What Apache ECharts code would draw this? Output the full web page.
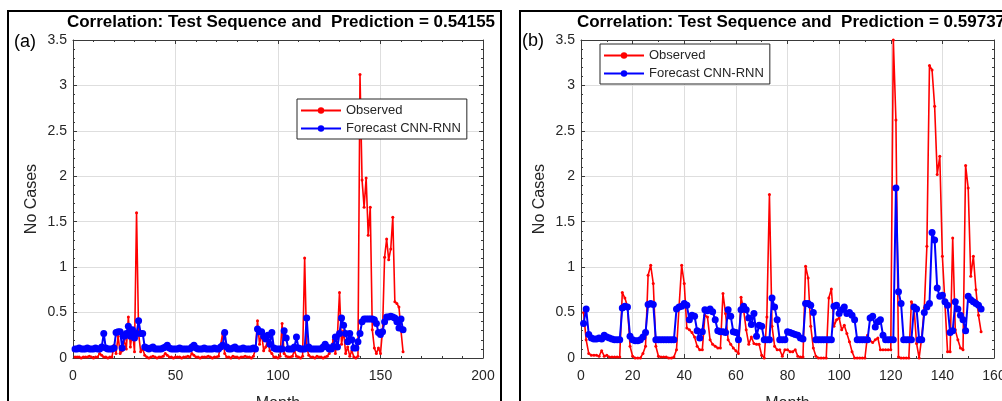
<!DOCTYPE html>
<html>
<head>
<meta charset="utf-8">
<script src="https://cdn.jsdelivr.net/npm/echarts@6/dist/echarts.min.js"></script>
<style>
  html, body { margin: 0; padding: 0; background: #fff; }
  #main { width: 1002px; height: 401px; }
</style>
</head>
<body>
<div id="main"></div>
<script>
// panel (a): observed vs forecast, one value per month starting at month 1
var observedA = [
  0.01,0.01,0.01,0.00,0.01,0.01,0.01,0.02,0.01,0.00,
  0.01,0.01,0.05,0.03,0.01,0.01,0.00,0.01,0.01,0.14,
  0.05,0.24,0.05,0.08,0.20,0.10,0.45,0.12,0.31,0.07,
  1.60,0.27,0.07,0.10,0.03,0.01,0.00,0.01,0.02,0.01,
  0.00,0.01,0.01,0.02,0.05,0.03,0.01,0.01,0.00,0.01,
  0.01,0.01,0.00,0.01,0.01,0.02,0.01,0.05,0.03,0.01,
  0.01,0.00,0.01,0.01,0.01,0.02,0.01,0.00,0.01,0.01,
  0.02,0.14,0.27,0.05,0.01,0.01,0.00,0.02,0.01,0.01,
  0.00,0.01,0.01,0.02,0.01,0.01,0.00,0.02,0.10,0.41,
  0.15,0.28,0.08,0.12,0.20,0.08,0.05,0.01,0.01,0.00,
  0.02,0.38,0.05,0.02,0.01,0.01,0.02,0.08,0.02,0.01,
  0.00,0.02,1.10,0.12,0.03,0.01,0.01,0.00,0.02,0.01,
  0.01,0.00,0.01,0.02,0.05,0.12,0.20,0.05,0.25,0.72,
  0.15,0.30,0.05,0.12,0.02,0.08,0.01,0.00,0.02,3.12,
  1.96,1.66,1.98,1.35,1.66,0.31,0.11,0.05,0.11,0.05,
  0.31,1.11,1.31,1.08,1.20,1.55,0.62,0.60,0.56,0.30,
  0.07
];
var forecastA = [
  0.10,0.10,0.11,0.10,0.10,0.10,0.11,0.10,0.10,0.10,
  0.11,0.10,0.10,0.12,0.27,0.11,0.10,0.10,0.10,0.11,
  0.28,0.29,0.29,0.11,0.24,0.27,0.35,0.24,0.31,0.22,
  0.27,0.41,0.27,0.27,0.12,0.11,0.10,0.11,0.12,0.10,
  0.10,0.10,0.10,0.11,0.12,0.14,0.11,0.10,0.10,0.10,
  0.10,0.11,0.10,0.10,0.10,0.10,0.10,0.12,0.14,0.11,
  0.10,0.10,0.10,0.11,0.10,0.10,0.10,0.10,0.11,0.10,
  0.10,0.12,0.14,0.28,0.12,0.10,0.10,0.11,0.12,0.10,
  0.10,0.10,0.11,0.10,0.10,0.10,0.10,0.11,0.10,0.32,
  0.29,0.29,0.24,0.21,0.25,0.15,0.28,0.11,0.10,0.10,
  0.10,0.10,0.30,0.22,0.10,0.10,0.10,0.12,0.23,0.11,
  0.10,0.10,0.10,0.44,0.12,0.10,0.10,0.10,0.10,0.10,
  0.10,0.12,0.15,0.12,0.10,0.10,0.13,0.23,0.12,0.27,
  0.44,0.36,0.27,0.18,0.27,0.20,0.11,0.11,0.18,0.27,
  0.40,0.43,0.43,0.43,0.43,0.43,0.42,0.38,0.28,0.26,
  0.29,0.40,0.45,0.45,0.46,0.45,0.44,0.40,0.33,0.43,
  0.31
];

// panel (b)
var observedB = [
  0.50,0.20,0.05,0.03,0.03,0.03,0.02,0.08,0.02,0.03,
  0.01,0.01,0.01,0.01,0.01,0.72,0.66,0.57,0.13,0.02,
  0.00,0.00,0.00,0.05,0.13,0.91,1.02,0.82,0.13,0.02,
  0.01,0.01,0.01,0.00,0.00,0.01,0.09,0.57,1.02,0.82,
  0.33,0.31,0.28,0.23,0.13,0.09,0.09,0.47,0.45,0.20,
  0.15,0.13,0.11,0.11,0.71,0.49,0.20,0.15,0.11,0.08,
  0.05,0.67,0.53,0.31,0.15,0.23,0.16,0.15,0.15,0.03,
  0.00,0.45,1.80,0.35,0.13,0.09,0.09,0.02,0.09,0.09,
  0.07,0.07,0.09,0.02,0.01,0.01,1.01,0.88,0.35,0.11,
  0.02,0.00,0.00,0.00,0.00,0.66,0.76,0.35,0.42,0.44,
  0.31,0.36,0.27,0.18,0.07,0.00,0.00,0.00,0.00,0.00,
  0.25,0.19,0.17,0.20,0.22,0.09,0.09,0.09,0.09,0.09,
  3.50,2.62,0.01,0.00,0.00,0.00,0.00,0.62,0.56,0.16,
  0.00,0.23,0.55,1.23,3.22,3.17,2.77,2.02,2.22,1.12,
  0.60,0.07,0.07,1.32,0.31,0.20,0.11,0.09,2.12,1.87,
  0.90,1.12,0.75,0.47,0.29
];
var forecastB = [
  0.38,0.54,0.26,0.22,0.21,0.21,0.22,0.21,0.25,0.23,
  0.22,0.21,0.20,0.20,0.20,0.55,0.57,0.56,0.24,0.20,
  0.19,0.19,0.20,0.23,0.28,0.59,0.60,0.59,0.20,0.20,
  0.20,0.20,0.20,0.20,0.20,0.20,0.54,0.56,0.57,0.60,
  0.58,0.42,0.47,0.46,0.30,0.22,0.29,0.53,0.52,0.54,
  0.51,0.42,0.30,0.29,0.29,0.28,0.53,0.46,0.29,0.28,
  0.20,0.53,0.57,0.53,0.44,0.37,0.49,0.24,0.36,0.35,
  0.20,0.20,0.20,0.66,0.56,0.42,0.20,0.20,0.20,0.29,
  0.28,0.27,0.26,0.25,0.22,0.21,0.60,0.60,0.58,0.50,
  0.20,0.20,0.20,0.20,0.20,0.20,0.20,0.57,0.58,0.49,
  0.53,0.56,0.49,0.50,0.47,0.42,0.20,0.20,0.20,0.20,
  0.20,0.44,0.46,0.34,0.40,0.42,0.25,0.20,0.20,0.20,
  0.20,1.87,0.73,0.60,0.20,0.20,0.20,0.20,0.56,0.54,
  0.20,0.20,0.50,0.56,0.60,1.38,1.30,0.77,0.68,0.69,
  0.62,0.58,0.28,0.30,0.62,0.54,0.47,0.42,0.30,0.68,
  0.64,0.62,0.60,0.58,0.54
];

var xTicksA = { max: 200, step: 50, minor: 5 };
var xTicksB = { max: 160, step: 20, minor: 2 };
var yTicks = { max: 3.5, step: 0.5, minor: 5 };

var titles = ['Correlation: Test Sequence and  Prediction = 0.54155',
              'Correlation: Test Sequence and  Prediction = 0.59737'];

function toPoints(arr) {
  return arr.map(function (v, i) { return [i + 1, v]; });
}

var FONT = 'Liberation Sans, Arial, Helvetica, sans-serif';
var TXT = '#262626';
var BOX = '#3a3a3a';

var chart = echarts.init(document.getElementById('main'));

// grid boxes (fixed, labels may run past the canvas edge like the original)
var grids = [
  { left: 73, top: 40, width: 410, height: 318, outerBoundsMode: 'none', containLabel: false },
  { left: 581, top: 40, width: 413, height: 318, outerBoundsMode: 'none', containLabel: false }
];

function xAxisPair(gi, t) {
  var base = {
    gridIndex: gi, type: 'value', min: 0, max: t.max, interval: t.step,
    axisLine: { show: true, onZero: false, lineStyle: { color: BOX, width: 1 } },
    axisTick: { show: true, inside: true, length: 4, lineStyle: { color: BOX } },
    minorTick: { show: true, splitNumber: t.minor, length: 2, lineStyle: { color: BOX } }
  };
  var bottom = Object.assign({}, base, {
    position: 'bottom',
    name: 'Month', nameLocation: 'middle', nameGap: 38,
    nameTextStyle: { fontFamily: FONT, fontSize: 16, color: TXT },
    axisLabel: { fontFamily: FONT, fontSize: 14, color: TXT, margin: 11 },
    splitLine: { show: true, lineStyle: { color: '#dedede', width: 1 } }
  });
  var top = Object.assign({}, base, {
    position: 'top',
    axisLabel: { show: false },
    splitLine: { show: false }
  });
  return [bottom, top];
}

function yAxisPair(gi) {
  var base = {
    gridIndex: gi, type: 'value', min: 0, max: yTicks.max, interval: yTicks.step,
    axisLine: { show: true, onZero: false, lineStyle: { color: BOX, width: 1 } },
    axisTick: { show: true, inside: true, length: 4, lineStyle: { color: BOX } },
    minorTick: { show: true, splitNumber: yTicks.minor, length: 2, lineStyle: { color: BOX } }
  };
  var left = Object.assign({}, base, {
    position: 'left',
    name: 'No Cases', nameLocation: 'middle', nameGap: 33,
    nameTextStyle: { fontFamily: FONT, fontSize: 16, color: TXT },
    axisLabel: { fontFamily: FONT, fontSize: 14, color: TXT, margin: 6 },
    splitLine: { show: true, lineStyle: { color: '#dedede', width: 1 } }
  });
  var right = Object.assign({}, base, {
    position: 'right',
    axisLabel: { show: false },
    splitLine: { show: false }
  });
  return [left, right];
}

var xAxes = xAxisPair(0, xTicksA).concat(xAxisPair(1, xTicksB));
var yAxes = yAxisPair(0).concat(yAxisPair(1));

function observedSeries(data, xi, yi) {
  return {
    name: 'Observed', type: 'line', xAxisIndex: xi, yAxisIndex: yi,
    data: toPoints(data), symbol: 'circle', symbolSize: 3, showSymbol: true,
    lineStyle: { color: '#ff0000', width: 1.6 },
    itemStyle: { color: '#ff0000' },
    animation: false, z: 2
  };
}
function forecastSeries(data, xi, yi) {
  return {
    name: 'Forecast CNN-RNN', type: 'line', xAxisIndex: xi, yAxisIndex: yi,
    data: toPoints(data), symbol: 'circle', symbolSize: 7, showSymbol: true,
    lineStyle: { color: '#0000ff', width: 2 },
    itemStyle: { color: '#0000ff' },
    animation: false, z: 3
  };
}

function legendAt(left, top) {
  return {
    orient: 'vertical', left: left, top: top,
    data: ['Observed', 'Forecast CNN-RNN'],
    itemWidth: 40, itemHeight: 8, itemGap: 5,
    padding: [5, 6, 4, 3],
    backgroundColor: '#fff', borderColor: '#262626', borderWidth: 1,
    textStyle: { fontFamily: FONT, fontSize: 13, color: TXT }
  };
}

function label(text, x, y, size, bold) {
  return {
    type: 'text', x: x, y: y,
    style: {
      text: text, fontFamily: FONT, fontSize: size,
      fontWeight: bold ? 'bold' : 'normal', fill: '#000',
      textAlign: 'center', textVerticalAlign: 'middle'
    }
  };
}

var option = {
  backgroundColor: '#fff',
  animation: false,
  grid: grids,
  xAxis: xAxes,
  yAxis: yAxes,
  legend: [legendAt(297, 99), legendAt(600, 44)],
  series: [
    observedSeries(observedA, 0, 0),
    forecastSeries(forecastA, 0, 0),
    observedSeries(observedB, 2, 2),
    forecastSeries(forecastB, 2, 2)
  ],
  graphic: [
    { type: 'rect', shape: { x: 8, y: 11, width: 493, height: 420 },
      style: { fill: 'none', stroke: '#000', lineWidth: 2 } },
    { type: 'rect', shape: { x: 520, y: 11, width: 500, height: 420 },
      style: { fill: 'none', stroke: '#000', lineWidth: 2 } },
    label(titles[0], 281, 22, 17, true),
    label(titles[1], 791, 22, 17, true),
    label('(a)', 25, 42, 18, false),
    label('(b)', 533, 41, 18, false)
  ]
};

chart.setOption(option);
</script>
</body>
</html>
